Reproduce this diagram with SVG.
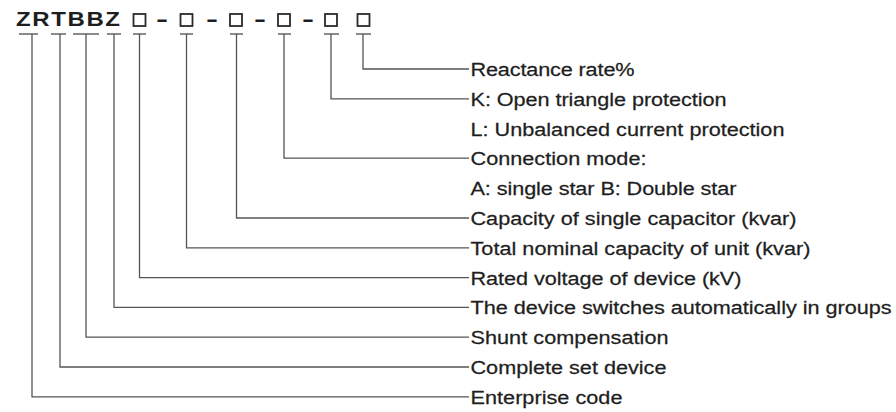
<svg xmlns="http://www.w3.org/2000/svg" width="896" height="412" viewBox="0 0 896 412">
<style>
.lbl{font-family:"Liberation Sans",Arial,sans-serif;font-size:19px;fill:#1e1e1e;stroke:#1e1e1e;stroke-width:0.25;}
.code{font-family:"Liberation Sans",Arial,sans-serif;font-size:20px;font-weight:bold;fill:#1e1e1e;}
.box{fill:none;stroke:#2a2a2a;stroke-width:1.8;}
.con{fill:none;stroke:#555;stroke-width:1.3;}
.bar{fill:none;stroke:#666;stroke-width:1.3;}
</style>
<rect width="896" height="412" fill="#fff"/>
<g id="code">
<text class="code" transform="translate(16,26) scale(1.2,1)" textLength="86.7" lengthAdjust="spacing">ZRTBBZ</text>
<rect class="box" x="133.5" y="14" width="12" height="12"/>
<text class="code" transform="translate(156,26) scale(1.8,1)">-</text>
<rect class="box" x="180.5" y="14" width="12" height="12"/>
<text class="code" transform="translate(206,26) scale(1.8,1)">-</text>
<rect class="box" x="230" y="14" width="12" height="12"/>
<text class="code" transform="translate(254,26) scale(1.8,1)">-</text>
<rect class="box" x="278" y="14" width="12" height="12"/>
<text class="code" transform="translate(302,26) scale(1.8,1)">-</text>
<rect class="box" x="325" y="14" width="12" height="12"/>
<rect class="box" x="357.5" y="14" width="12" height="12"/>
</g>
<g id="connectors">
<path class="bar" d="M19 34H38M51 34H66M73 34H99M107 34H121M133 34H146M180 34H193M230 34H243M278 34H291M324 34H339M356 34H371"/>
<path class="con" d="M363 34V69H469"/>
<path class="con" d="M331 34V98.8H469"/>
<path class="con" d="M284 34V158.2H469"/>
<path class="con" d="M236.5 34V218H469"/>
<path class="con" d="M186.5 34V247.8H469"/>
<path class="con" d="M139.5 34V277.6H469"/>
<path class="con" d="M114 34V307.4H469"/>
<path class="con" d="M86 34V337.2H469"/>
<path class="con" d="M60 34V367H469"/>
<path class="con" d="M32 34V396.8H469"/>
</g>
<g id="reactance"><text class="lbl" transform="translate(470.5,76) scale(1.14,1)" textLength="143.9" lengthAdjust="spacing">Reactance rate%</text></g>
<g id="protection">
<text class="lbl" transform="translate(470.5,105.8) scale(1.14,1)" textLength="224.6" lengthAdjust="spacing">K: Open triangle protection</text>
<text class="lbl" transform="translate(470.5,135.5) scale(1.14,1)" textLength="275.4" lengthAdjust="spacing">L: Unbalanced current protection</text>
</g>
<g id="connection">
<text class="lbl" transform="translate(470.5,165.2) scale(1.14,1)" textLength="154.4" lengthAdjust="spacing">Connection mode:</text>
<text class="lbl" transform="translate(470.5,195.1) scale(1.14,1)" textLength="233.3" lengthAdjust="spacing">A: single star B: Double star</text>
</g>
<g id="single-capacity"><text class="lbl" transform="translate(470.5,225) scale(1.14,1)" textLength="286" lengthAdjust="spacing">Capacity of single capacitor (kvar)</text></g>
<g id="total-capacity"><text class="lbl" transform="translate(470.5,254.8) scale(1.14,1)" textLength="298.2" lengthAdjust="spacing">Total nominal capacity of unit (kvar)</text></g>
<g id="rated-voltage"><text class="lbl" transform="translate(470.5,284.6) scale(1.14,1)" textLength="237.7" lengthAdjust="spacing">Rated voltage of device (kV)</text></g>
<g id="auto-switch"><text class="lbl" transform="translate(470.5,314.4) scale(1.14,1)" textLength="369.3" lengthAdjust="spacing">The device switches automatically in groups</text></g>
<g id="shunt"><text class="lbl" transform="translate(470.5,344.2) scale(1.14,1)" textLength="173.7" lengthAdjust="spacing">Shunt compensation</text></g>
<g id="complete-set"><text class="lbl" transform="translate(470.5,374) scale(1.14,1)" textLength="171.9" lengthAdjust="spacing">Complete set device</text></g>
<g id="enterprise"><text class="lbl" transform="translate(470.5,403.8) scale(1.14,1)" textLength="133.3" lengthAdjust="spacing">Enterprise code</text></g>
</svg>
